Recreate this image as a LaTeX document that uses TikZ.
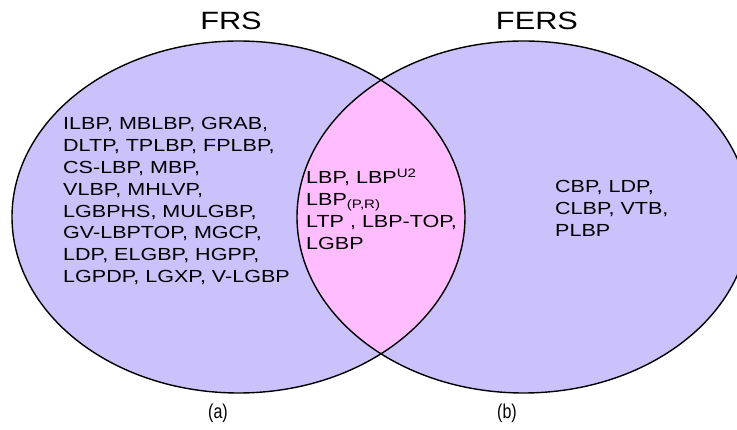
\documentclass[tikz,border=0pt]{standalone}
\usepackage{fontspec}
\newfontfamily\labfont[FakeStretch=1.23]{Liberation Sans}
\newfontfamily\capfont[FakeStretch=0.8]{Liberation Sans}
\definecolor{setblue}{RGB}{204,194,251}
\definecolor{setpink}{RGB}{255,188,255}
\begin{document}
\begin{tikzpicture}[x=1pt,y=-1pt,
  setlist/.style={anchor=base west,align=left,inner sep=0pt,
    font=\labfont\fontsize{17.5}{21.8}\selectfont},
  settitle/.style={font=\labfont\fontsize{25}{25}\selectfont},
  subcap/.style={font=\capfont\fontsize{20}{20}\selectfont}]
\useasboundingbox (0,0) rectangle (737,430);
\clip (0,0) rectangle (737,430);
% the two sets
\fill [setblue] (238.5,217) ellipse [x radius=226.5,y radius=176];
\fill [setblue] (523.5,217) ellipse [x radius=226.5,y radius=176];
\begin{scope}
\clip (238.5,217) ellipse [x radius=226.5,y radius=176];
\fill [setpink] (523.5,217) ellipse [x radius=226.5,y radius=176];
\end{scope}
\draw [line width=1.4pt] (238.5,217) ellipse [x radius=226.5,y radius=176];
\draw [line width=1.4pt] (523.5,217) ellipse [x radius=226.5,y radius=176];
% titles
\node (frs) [settitle] at (231,21) {FRS};
\node (fers) [settitle] at (537,21) {FERS};
% members (placed at the baseline of the last line)
\node (frsonly) [setlist] at (63,282.6) {ILBP, MBLBP, GRAB,\\DLTP, TPLBP, FPLBP,\\CS-LBP, MBP,\\VLBP, MHLVP,\\LGBPHS, MULGBP,\\GV-LBPTOP, MGCP,\\LDP, ELGBP, HGPP,\\LGPDP, LGXP, V-LGBP};
\node (both) [setlist] at (306,249.3) {LBP, LBP\textsuperscript{U2}\\LBP\textsubscript{(P,R)}\\LTP , LBP-TOP,\\LGBP};
\node (fersonly) [setlist] at (555,236.5) {CBP, LDP,\\CLBP, VTB,\\PLBP};
% captions
\node (capa) [subcap] at (218,413) {(a)};
\node (capb) [subcap] at (507,413) {(b)};
\end{tikzpicture}
\end{document}
